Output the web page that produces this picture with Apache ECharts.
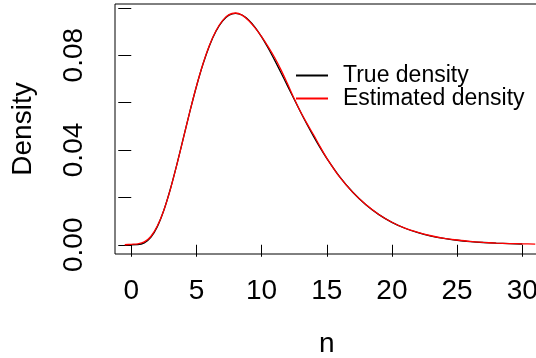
<!DOCTYPE html>
<html>
<head>
<meta charset="utf-8">
<script src="https://cdn.jsdelivr.net/npm/echarts@6/dist/echarts.min.js"></script>
<style>
html,body{margin:0;padding:0;background:#fff;}
#chart{width:536px;height:358px;}
</style>
</head>
<body>
<div id="chart"></div>
<script>
// True density (chi-squared, df = 10)
const trueX = [0,0.5,1,1.5,2,2.5,3,3.5,4,4.5,5,5.5,6,6.5,7,7.5,8,8.5,9,9.5,10,10.5,11,11.5,12,12.5,13,13.5,14,14.5,15,16,17,18,19,20,21,22,23,24,25,26,27,28,29,30];
const trueY = [0,0.00006,0.00079,0.00311,0.00766,0.01457,0.02353,0.03395,0.04511,0.05628,0.06680,0.07617,0.08402,0.09012,0.09441,0.09689,0.09768,0.09695,0.09490,0.09176,0.08773,0.08305,0.07791,0.07249,0.06693,0.06137,0.05591,0.05064,0.04561,0.04088,0.03646,0.02863,0.02213,0.01687,0.01270,0.00946,0.00697,0.00509,0.00369,0.00265,0.00190,0.00135,0.00095,0.00067,0.00046,0.00032];
// Estimated (kernel) density
const estX = [-0.5,0,0.5,1,1.5,2,2.5,3,3.5,4,4.5,5,5.5,6,6.5,7,7.5,8,8.5,9,9.5,10,10.5,11,11.5,12,12.5,13,13.5,14,14.5,15,16,17,18,19,20,21,22,23,24,25,26,27,28,29,30,31];
const estY = [0.0000,0.0002,0.0004,0.0012,0.0035,0.0079,0.0146,0.0234,0.0338,0.0450,0.0563,0.0669,0.0763,0.0842,0.0903,0.0946,0.0971,0.0978,0.0969,0.0946,0.0915,0.0878,0.0836,0.0790,0.0737,0.0678,0.0617,0.0560,0.0510,0.0463,0.0413,0.0366,0.0285,0.0221,0.0170,0.0128,0.0095,0.0070,0.0052,0.0038,0.0027,0.0020,0.0014,0.0010,0.0007,0.0005,0.0004,0.0003];
const xTicks = [0,5,10,15,20,25,30];
const yTicks = [0,0.02,0.04,0.06,0.08,0.10];
const yLabels = [0,0.04,0.08];
const seriesNames = ['True density','Estimated density'];

const font = 'Liberation Sans, Arial, Helvetica, sans-serif';
const chart = echarts.init(document.getElementById('chart'), null, {renderer:'canvas'});
chart.setOption({
  animation:false,
  backgroundColor:'#fff',
  grid:{left:115, top:4, width:423.5, height:250, show:true, borderColor:'#000', borderWidth:1, backgroundColor:'transparent', containLabel:false, outerBoundsMode:'none'},
  xAxis:{
    type:'value', min:-1.248, max:31.248,
    name:'n', nameLocation:'middle', nameGap:76,
    nameTextStyle:{fontFamily:font, fontSize:28, color:'#000'},
    axisLine:{show:false},
    splitLine:{show:false},
    axisTick:{show:true, inside:false, length:12, customValues:xTicks, lineStyle:{color:'#000', width:1}},
    axisLabel:{customValues:xTicks, fontFamily:font, fontSize:28, color:'#000', margin:23}
  },
  yAxis:{
    type:'value', min:-0.0039, max:0.1016,
    name:'Density', nameLocation:'middle', nameGap:78, nameRotate:90,
    nameTextStyle:{fontFamily:font, fontSize:28, color:'#000'},
    axisLine:{show:false},
    splitLine:{show:false},
    axisTick:{show:true, length:13, customValues:yTicks, lineStyle:{color:'#000', width:1}},
    axisLabel:{customValues:yLabels, rotate:90, fontFamily:font, fontSize:28, color:'#000', margin:27,
      formatter:v=>v.toFixed(2)}
  },
  legend:{
    show:true, orient:'vertical', left:296, top:64, padding:0, itemWidth:32, itemHeight:2, itemGap:0,
    icon:'rect',
    textStyle:{fontFamily:font, fontSize:23, color:'#000', lineHeight:21.7, padding:[0,0,0,10]},
    data:seriesNames
  },
  series:[
    {name:seriesNames[0], type:'line', data:trueX.map((x,i)=>[x,trueY[i]]), showSymbol:false, smooth:0.3,
      lineStyle:{color:'#000', width:1.3}, itemStyle:{color:'#000'}},
    {name:seriesNames[1], type:'line', data:estX.map((x,i)=>[x,estY[i]]), showSymbol:false, smooth:0.3,
      lineStyle:{color:'#ff0000', width:1.3}, itemStyle:{color:'#ff0000'}}
  ]
});
</script>
</body>
</html>
